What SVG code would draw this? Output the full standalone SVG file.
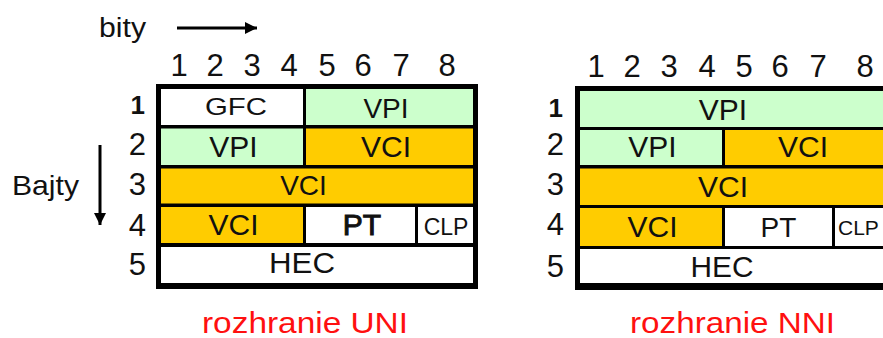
<svg xmlns="http://www.w3.org/2000/svg" width="883" height="338" viewBox="0 0 883 338">
<defs>
<style>
text{font-family:"Liberation Sans",Arial,sans-serif;fill:#111}
.c{text-anchor:middle}
.num{font-size:31px;text-anchor:middle}
.row{font-size:31px;text-anchor:end}
.lbl{font-size:30px}
.red{fill:#ff1010;font-size:30px}
.g{fill:#ccffcc}
.o{fill:#ffcc00}
.w{fill:#ffffff}
.frame{fill:#000}
.ax{stroke:#000;stroke-width:3;fill:none}
</style>
<marker id="ah" viewBox="0 0 10 10" refX="10" refY="5" markerWidth="7" markerHeight="4" markerUnits="strokeWidth" orient="auto">
<path d="M0,0 L10,5 L0,10 z" fill="#000"/>
</marker>
</defs>
<rect width="883" height="338" fill="#fff"/>

<g id="axes">
<text x="99" y="37" style="font-size:27px" textLength="47" lengthAdjust="spacingAndGlyphs">bity</text>
<text x="12" y="195" style="font-size:28px" textLength="67" lengthAdjust="spacingAndGlyphs">Bajty</text>
</g>

<g id="connectors">
<line class="ax" x1="177" y1="28" x2="257" y2="28" marker-end="url(#ah)"/>
<line class="ax" x1="100" y1="145" x2="100" y2="225" marker-end="url(#ah)"/>
</g>

<g id="uni">
<g id="uni-bits">
<text class="num" x="179" y="76">1</text>
<text class="num" x="215" y="76">2</text>
<text class="num" x="252" y="76">3</text>
<text class="num" x="289" y="76">4</text>
<text class="num" x="327" y="76">5</text>
<text class="num" x="363" y="76">6</text>
<text class="num" x="401" y="76">7</text>
<text class="num" x="447" y="76">8</text>
</g>
<g id="uni-bytes">
<text class="row" x="145" y="114" style="font-size:26px;font-weight:bold">1</text>
<text class="row" x="146" y="155">2</text>
<text class="row" x="146" y="195">3</text>
<text class="row" x="146" y="236">4</text>
<text class="row" x="146" y="275">5</text>
</g>
<rect class="frame" x="156" y="84" width="322" height="205"/>
<g id="uni-gfc"><rect class="w" x="161" y="89" width="142" height="36"/><text class="c" x="236" y="115" style="font-size:24px" textLength="62" lengthAdjust="spacingAndGlyphs">GFC</text></g>
<g id="uni-vpi1"><rect class="g" x="306" y="89" width="167" height="36"/><text class="c lbl" x="386" y="118" style="font-size:28px">VPI</text></g>
<g id="uni-vpi2"><rect class="g" x="161" y="128.5" width="142" height="36.5"/><text class="c lbl" x="233.5" y="157">VPI</text></g>
<g id="uni-vci2"><rect class="o" x="306" y="128.5" width="167" height="36.5"/><text class="c lbl" x="386" y="157">VCI</text></g>
<g id="uni-vci3"><rect class="o" x="161" y="168.5" width="312" height="35"/><text class="c lbl" x="303.5" y="195" style="font-size:28px">VCI</text></g>
<g id="uni-vci4"><rect class="o" x="161" y="207" width="142" height="36"/><text class="c lbl" x="233.5" y="235">VCI</text></g>
<g id="uni-pt"><rect class="w" x="306" y="207" width="109" height="36"/><text class="c lbl" x="362" y="235" style="stroke:#111;stroke-width:1">PT</text></g>
<g id="uni-clp"><rect class="w" x="418" y="207" width="55" height="36"/><text class="c" x="446" y="235" style="font-size:23px">CLP</text></g>
<g id="uni-hec"><rect class="w" x="161" y="247" width="312" height="36"/><text class="c lbl" x="302" y="273" textLength="66" lengthAdjust="spacingAndGlyphs">HEC</text></g>
<text class="red" x="202" y="333" textLength="206" lengthAdjust="spacingAndGlyphs">rozhranie UNI</text>
</g>

<g id="nni">
<g id="nni-bits">
<text class="num" x="596" y="77">1</text>
<text class="num" x="632" y="77">2</text>
<text class="num" x="669" y="77">3</text>
<text class="num" x="707" y="77">4</text>
<text class="num" x="744" y="77">5</text>
<text class="num" x="780" y="77">6</text>
<text class="num" x="818" y="77">7</text>
<text class="num" x="865" y="77">8</text>
</g>
<g id="nni-bytes">
<text class="row" x="563" y="117" style="font-size:26px;font-weight:bold">1</text>
<text class="row" x="564" y="155">2</text>
<text class="row" x="564" y="195">3</text>
<text class="row" x="564" y="235">4</text>
<text class="row" x="564" y="277">5</text>
</g>
<rect class="frame" x="575" y="86" width="322" height="204"/>
<g id="nni-vpi1"><rect class="g" x="580" y="91" width="312" height="36"/><text class="c lbl" x="723" y="120">VPI</text></g>
<g id="nni-vpi2"><rect class="g" x="580" y="130" width="142" height="35"/><text class="c lbl" x="652.5" y="157">VPI</text></g>
<g id="nni-vci2"><rect class="o" x="725" y="130" width="167" height="35"/><text class="c lbl" x="803" y="157">VCI</text></g>
<g id="nni-vci3"><rect class="o" x="580" y="168.5" width="312" height="36.5"/><text class="c lbl" x="723" y="197">VCI</text></g>
<g id="nni-vci4"><rect class="o" x="580" y="208" width="142" height="38"/><text class="c lbl" x="652.5" y="237">VCI</text></g>
<g id="nni-pt"><rect class="w" x="725" y="208" width="107" height="38"/><text class="c" x="778.5" y="237" style="font-size:28px">PT</text></g>
<g id="nni-clp"><rect class="w" x="835" y="208" width="57" height="38"/><text x="838" y="235" style="font-size:21px">CLP</text></g>
<g id="nni-hec"><rect class="w" x="580" y="249" width="312" height="34"/><text class="c lbl" x="722" y="277" textLength="63" lengthAdjust="spacingAndGlyphs">HEC</text></g>
<text class="red" x="630" y="333" textLength="205" lengthAdjust="spacingAndGlyphs">rozhranie NNI</text>
</g>
</svg>
